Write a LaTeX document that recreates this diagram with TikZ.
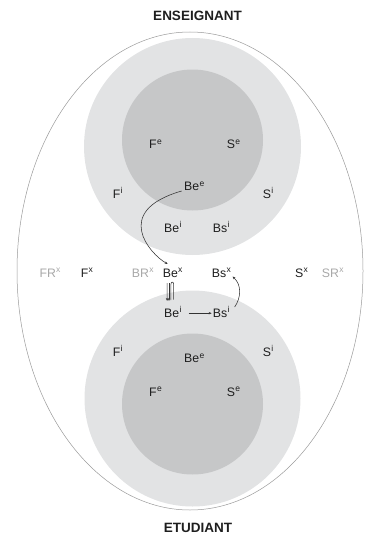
\documentclass[tikz,border=0pt]{standalone}
\usepackage{fontspec}
\setmainfont{Liberation Sans}
\usetikzlibrary{calc,arrows.meta}
\definecolor{lightc}{HTML}{E2E3E4}
\definecolor{darkc}{HTML}{C6C7C8}
\definecolor{txt}{HTML}{1E1E1E}
\definecolor{gtxt}{HTML}{A8A8A8}
\definecolor{outl}{HTML}{9A9A9A}
\definecolor{arrc}{HTML}{333333}
\newcommand\spx[1]{\kern0.3pt\raisebox{4.1pt}{\fontsize{8.5}{8.5}\selectfont #1}}
\tikzset{
  lbl/.style={inner sep=0pt, anchor=base west, text=txt, font=\fontsize{12.3}{14}\selectfont},
  glbl/.style={lbl, text=gtxt},
  ttl/.style={inner sep=0pt, text=txt, font=\fontsize{13.5}{16}\selectfont\bfseries},
  arr/.style={draw=arrc, line width=0.55pt, -{Stealth[length=3pt,width=2.4pt]}},
  lnk/.style={draw=arrc, line width=0.55pt},
}
\begin{document}
\begin{tikzpicture}[x=1pt,y=-1pt]
\useasboundingbox (0,0) rectangle (367,535);
% outer ellipse
\draw[outl, line width=0.5pt] (190,271) ellipse[x radius=173pt, y radius=239pt];
% circles
\fill[lightc] (192.5,146.5) circle[radius=108.5pt];
\fill[darkc] (192.5,140) circle[radius=70.5pt];
\fill[lightc] (192.5,398.5) circle[radius=108pt];
\fill[darkc] (192.5,404) circle[radius=70.5pt];
% titles
\node[ttl] (ens) at (197.5,16.2) {ENSEIGNANT};
\node[ttl] (etu) at (198,528) {ETUDIANT};
% top group
\node[lbl] (feT) at (149,148.5) {F\spx{e}};
\node[lbl] (seT) at (226.7,148.5) {S\spx{e}};
\node[lbl] (beeT) at (184,190.5) {Be\spx{e}};
\node[lbl] (fiT) at (112.7,198) {F\spx{i}};
\node[lbl] (siT) at (262.7,198) {S\spx{i}};
\node[lbl] (beiT) at (164,232) {Be\spx{i}};
\node[lbl] (bsiT) at (212.7,232) {Bs\spx{i}};
% middle row
\node[glbl] (frx) at (39.3,277) {FR\spx{x}};
\node[lbl] (fx) at (80.7,277) {F\spx{x}};
\node[glbl] (brx) at (131.7,277) {BR\spx{x}};
\node[lbl] (bex) at (162.7,277) {Be\spx{x}};
\node[lbl] (bsx) at (211.7,277) {Bs\spx{x}};
\node[lbl] (sx) at (295,277) {S\spx{x}};
\node[glbl] (srx) at (321.7,277) {SR\spx{x}};
% bottom group
\node[lbl] (beiB) at (164,317) {Be\spx{i}};
\node[lbl] (bsiB) at (212.7,317) {Bs\spx{i}};
\node[lbl] (fiB) at (112.7,356) {F\spx{i}};
\node[lbl] (siB) at (262.7,356) {S\spx{i}};
\node[lbl] (beeB) at (184,362.7) {Be\spx{e}};
\node[lbl] (feB) at (149,396) {F\spx{e}};
\node[lbl] (seB) at (226.7,396) {S\spx{e}};
% connectors
\draw[arr] ($(beeT.base west)+(-2.3,0.5)$) .. controls (111.7,211) and (150,254) .. ($(bex.base west)+(5,-13)$);
\draw[arr] ($(bex.base west)+(4.4,6)$) -- ($(beiB.base west)+(3.1,-16)$);
\draw[arr] ($(bex.base west)+(6.3,6)$) -- ($(beiB.base west)+(5,-16)$);
\draw[lnk] ($(beiB.base west)+(6.9,-17)$) -- ($(bex.base west)+(8.2,7.5)$)
   .. controls ($(bex.base west)+(8.2,4.3)$) and ($(bex.base west)+(11,4.3)$) .. ($(bex.base west)+(11,7.5)$)
   -- ($(beiB.base west)+(9.7,-17.5)$);
\draw[arr] ($(beiB.base east)+(7,-3.8)$) -- ($(bsiB.base west)+(-1,-3.8)$);
\draw[arr] ($(bsiB.base east)+(5,-10)$) .. controls (241,298) and (242,285) .. ($(bsx.base east)+(1.5,-0.5)$);
\end{tikzpicture}
\end{document}
